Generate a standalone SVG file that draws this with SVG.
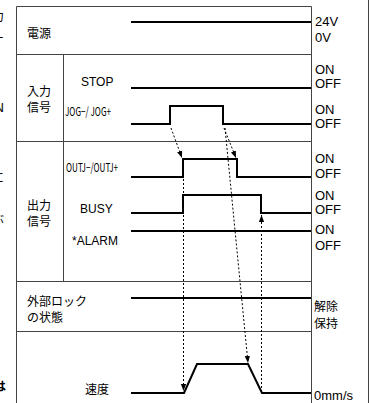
<svg xmlns="http://www.w3.org/2000/svg" width="371" height="403" viewBox="0 0 371 403">
<defs>
<style>
.grid{stroke:#444;stroke-width:1;fill:none}
.sig{stroke:#000;stroke-width:2;fill:none;stroke-linejoin:miter}
.dot{stroke:#000;stroke-width:1;fill:none;stroke-dasharray:2,2}
.en{font-family:"Liberation Sans",Arial,sans-serif;font-size:12px;fill:#000}
.rt{font-family:"Liberation Sans",Arial,sans-serif;font-size:13px;fill:#000}
.jp{font-family:"Noto Sans CJK JP","Noto Sans",sans-serif;font-size:12px;fill:#000}
.cd{font-family:"Noto Sans CJK JP","Noto Sans",sans-serif;font-size:12px;fill:#000}
</style>
<marker id="ah" viewBox="0 0 8 8" refX="8" refY="4" markerWidth="7" markerHeight="7" orient="auto" markerUnits="userSpaceOnUse">
<path d="M0,1 L8,4 L0,7 Z" fill="#000"/>
</marker>
</defs>
<rect width="371" height="403" fill="#fff"/>

<g id="edge-fragments">
<text x="-8" y="21" class="jp" font-size="13">力</text>
<text x="-8" y="43" class="jp" font-size="13">ー</text>
<text x="-5.5" y="112" class="rt">N</text>
<text x="-8" y="182" class="jp" font-size="13">に</text>
<text x="-8" y="224" class="jp" font-size="13">ぶ</text>
<text x="-6" y="391" class="jp" font-size="14" font-weight="bold">は</text>
</g>

<g id="frame">
<path class="grid" d="M16.5,403 V6.5 H311.5 V403"/>
<path class="grid" d="M368.5,0 V403"/>
<path class="grid" d="M16,54.5 H311 M16,141.5 H311 M16,281.5 H311 M16,331.5 H311"/>
<path class="grid" d="M63.5,54 V281"/>
</g>

<g id="power">
<text x="27" y="38" class="jp">電源</text>
<path class="sig" d="M131,22 H311"/>
<text x="315" y="26" class="rt">24V</text>
<text x="315" y="42" class="rt">0V</text>
</g>

<g id="input">
<text x="27" y="96" class="jp">入力</text>
<text x="27" y="112" class="jp">信号</text>
</g>

<g id="stop">
<text x="81" y="86" class="en">STOP</text>
<path class="sig" d="M131,88 H311"/>
<text x="315" y="74" class="rt">ON</text>
<text x="315" y="88" class="rt">OFF</text>
</g>

<g id="jog">
<text x="65" y="116" class="cd" textLength="46" lengthAdjust="spacingAndGlyphs">JOG−/ JOG+</text>
<path class="sig" d="M131,124 H170 V106 H223 V124 H311"/>
<text x="315" y="114" class="rt">ON</text>
<text x="315" y="128" class="rt">OFF</text>
</g>

<g id="output">
<text x="27" y="210" class="jp">出力</text>
<text x="27" y="226" class="jp">信号</text>
</g>

<g id="outj">
<text x="66" y="172" class="cd" textLength="52" lengthAdjust="spacingAndGlyphs">OUTJ−/OUTJ+</text>
<path class="sig" d="M131,177 H183 V159 H237 V177 H311"/>
<text x="315" y="163" class="rt">ON</text>
<text x="315" y="178" class="rt">OFF</text>
</g>

<g id="busy">
<text x="80" y="213" class="en">BUSY</text>
<path class="sig" d="M131,213 H183 V195 H261 V213 H311"/>
<text x="315" y="200" class="rt">ON</text>
<text x="315" y="214" class="rt">OFF</text>
</g>

<g id="alarm">
<text x="72" y="245" class="en">*ALARM</text>
<path class="sig" d="M131,231 H311"/>
<text x="315" y="234" class="rt">ON</text>
<text x="315" y="250" class="rt">OFF</text>
</g>

<g id="lock">
<text x="27" y="306" class="jp">外部ロック</text>
<text x="27" y="322" class="jp">の状態</text>
<path class="sig" d="M131,298 H311"/>
<text x="314" y="311" class="jp">解除</text>
<text x="314" y="328" class="jp">保持</text>
</g>

<g id="speed">
<text x="85" y="394" class="jp">速度</text>
<path class="sig" d="M131,393 H184 L197,364 H248 L262,393 H311"/>
<text x="314" y="400" class="rt">0mm/s</text>
</g>

<g id="connectors">
<path class="dot" d="M171,128 L182,158" marker-end="url(#ah)"/>
<path class="dot" d="M224,128 L236,158" marker-end="url(#ah)"/>
<path class="dot" d="M225,128 L248,363" marker-end="url(#ah)"/>
<path class="dot" d="M183.5,179 V391" marker-end="url(#ah)"/>
<path class="dot" d="M261.5,392 V215" marker-end="url(#ah)"/>
</g>
</svg>
